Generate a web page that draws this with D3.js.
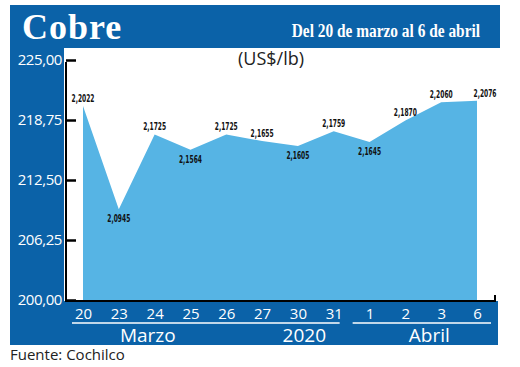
<!DOCTYPE html>
<html>
<head>
<meta charset="utf-8">
<script src="https://cdn.jsdelivr.net/npm/d3@7"></script>
<style>
  body { margin: 0; background: #fff; }
  svg { display: block; }
</style>
</head>
<body>
<svg width="520" height="367"></svg>
<script>
// data
var days = ["20", "23", "24", "25", "26", "27", "30", "31", "1", "2", "3", "6"];
var prices = [2.2022, 2.0945, 2.1725, 2.1564, 2.1725, 2.1655, 2.1605, 2.1759, 2.1645, 2.1870, 2.2060, 2.2076];
var yTicks = [200, 206.25, 212.5, 218.75, 225];
var groups = ["Marzo", "2020", "Abril"];

var darkBlue = "#0b62a8",
    lightBlue = "#56b4e4";

var svg = d3.select("svg");

var data = days.map(function(d, i) { return { day: d, v: prices[i] }; });

var x = d3.scalePoint().domain(days).range([83, 477]);
var y = d3.scaleLinear().domain([200, 225]).range([300, 60]);
var xi = d3.scaleLinear().domain([0, days.length - 1]).range([83, 477]);

// blue frame
svg.append("rect").attr("x", 10).attr("y", 5).attr("width", 490).attr("height", 43).attr("fill", darkBlue);
svg.append("rect").attr("x", 10).attr("y", 5).attr("width", 54).attr("height", 340).attr("fill", darkBlue);
svg.append("rect").attr("x", 10).attr("y", 301).attr("width", 488).attr("height", 44).attr("fill", darkBlue);

svg.append("text")
    .attr("x", 22).attr("y", 39)
    .attr("fill", "#fff")
    .style("font-family", "'Liberation Serif', serif")
    .style("font-weight", "bold")
    .style("font-size", "36px")
    .style("letter-spacing", "1px")
    .text("Cobre");

// subtitle, squeezed horizontally like the condensed original
svg.append("text")
    .attr("transform", "translate(480,37) scale(0.81,1)")
    .attr("text-anchor", "end")
    .attr("fill", "#fff")
    .style("font-family", "'Liberation Serif', serif")
    .style("font-weight", "bold")
    .style("font-size", "19px")
    .text("Del 20 de marzo al 6 de abril");

svg.append("text")
    .attr("x", 271).attr("y", 65)
    .attr("text-anchor", "middle")
    .attr("fill", "#222")
    .style("font-family", "'Open Sans', sans-serif")
    .style("font-size", "18px")
    .text("(US$/lb)");

// area
var area = d3.area()
    .x(function(d) { return x(d.day); })
    .y0(y(200))
    .y1(function(d) { return y(d.v * 100); });

svg.append("path")
    .datum(data)
    .attr("d", area)
    .attr("fill", lightBlue);

// y axis
var yAxis = svg.append("g")
    .attr("transform", "translate(66,0)")
    .call(d3.axisLeft(y).tickValues(yTicks).tickSize(-10).tickPadding(4)
        .tickFormat(function(d) { return d3.format(".2f")(d).replace(".", ","); }));
yAxis.select(".domain").remove();
yAxis.selectAll(".tick line").attr("stroke", "#000").attr("stroke-width", 2.5);
yAxis.selectAll(".tick text")
    .attr("fill", "#fff")
    .style("font-family", "'Open Sans', sans-serif")
    .style("font-size", "15px")
    .style("letter-spacing", "-0.4px");

svg.append("path")
    .attr("d", "M66,62V301H495V295")
    .attr("fill", "none")
    .attr("stroke", "#000")
    .attr("stroke-width", 2);

// x axis
var xAxis = svg.append("g")
    .attr("transform", "translate(0,301)")
    .call(d3.axisBottom(x).tickSize(0).tickPadding(7));
xAxis.select(".domain").remove();
xAxis.selectAll(".tick text")
    .attr("fill", "#fff")
    .style("font-family", "'Open Sans', sans-serif")
    .style("font-size", "15px");

// group underlines and labels
var lines = [[xi(0) - 11, (xi(7) + xi(8)) / 2 - 12], [(xi(7) + xi(8)) / 2 + 1, xi(11) + 14]];
svg.selectAll(".grp-line")
    .data(lines)
    .enter().append("line")
    .attr("class", "grp-line")
    .attr("x1", function(d) { return d[0]; })
    .attr("x2", function(d) { return d[1]; })
    .attr("y1", 323).attr("y2", 323)
    .attr("stroke", "#fff")
    .attr("stroke-width", 1.5);

var groupPos = [1.81, 6.18, 9.67];
svg.selectAll(".grp")
    .data(groups)
    .enter().append("text")
    .attr("class", "grp")
    .attr("x", function(d, i) { return xi(groupPos[i]); })
    .attr("y", 342)
    .attr("text-anchor", "middle")
    .attr("fill", "#fff")
    .style("font-family", "'Open Sans', sans-serif")
    .style("font-size", "19px")
    .text(function(d) { return d; });

// value labels: below the line at local lows, above elsewhere
function isLow(i) {
    return i > 0 && i < prices.length - 1 && prices[i] < prices[i - 1] && prices[i] < prices[i + 1];
}

svg.selectAll(".val")
    .data(data)
    .enter().append("text")
    .attr("class", "val")
    .attr("x", function(d, i) { return x(d.day) + (i == data.length - 1 ? 8 : 0); })
    .attr("y", function(d, i) { return y(d.v * 100) + (isLow(i) ? 13 : -4); })
    .attr("text-anchor", "middle")
    .attr("textLength", 23)
    .attr("lengthAdjust", "spacingAndGlyphs")
    .attr("fill", "#111")
    .style("font-family", "'Liberation Sans Narrow', 'DejaVu Sans Condensed', sans-serif")
    .style("font-weight", "bold")
    .style("font-size", "11px")
    .text(function(d) { return d3.format(".4f")(d.v).replace(".", ","); });

svg.append("text")
    .attr("x", 10).attr("y", 360)
    .attr("fill", "#222")
    .style("font-family", "'Open Sans', sans-serif")
    .style("font-size", "15px")
    .text("Fuente: Cochilco");
</script>
</body>
</html>
